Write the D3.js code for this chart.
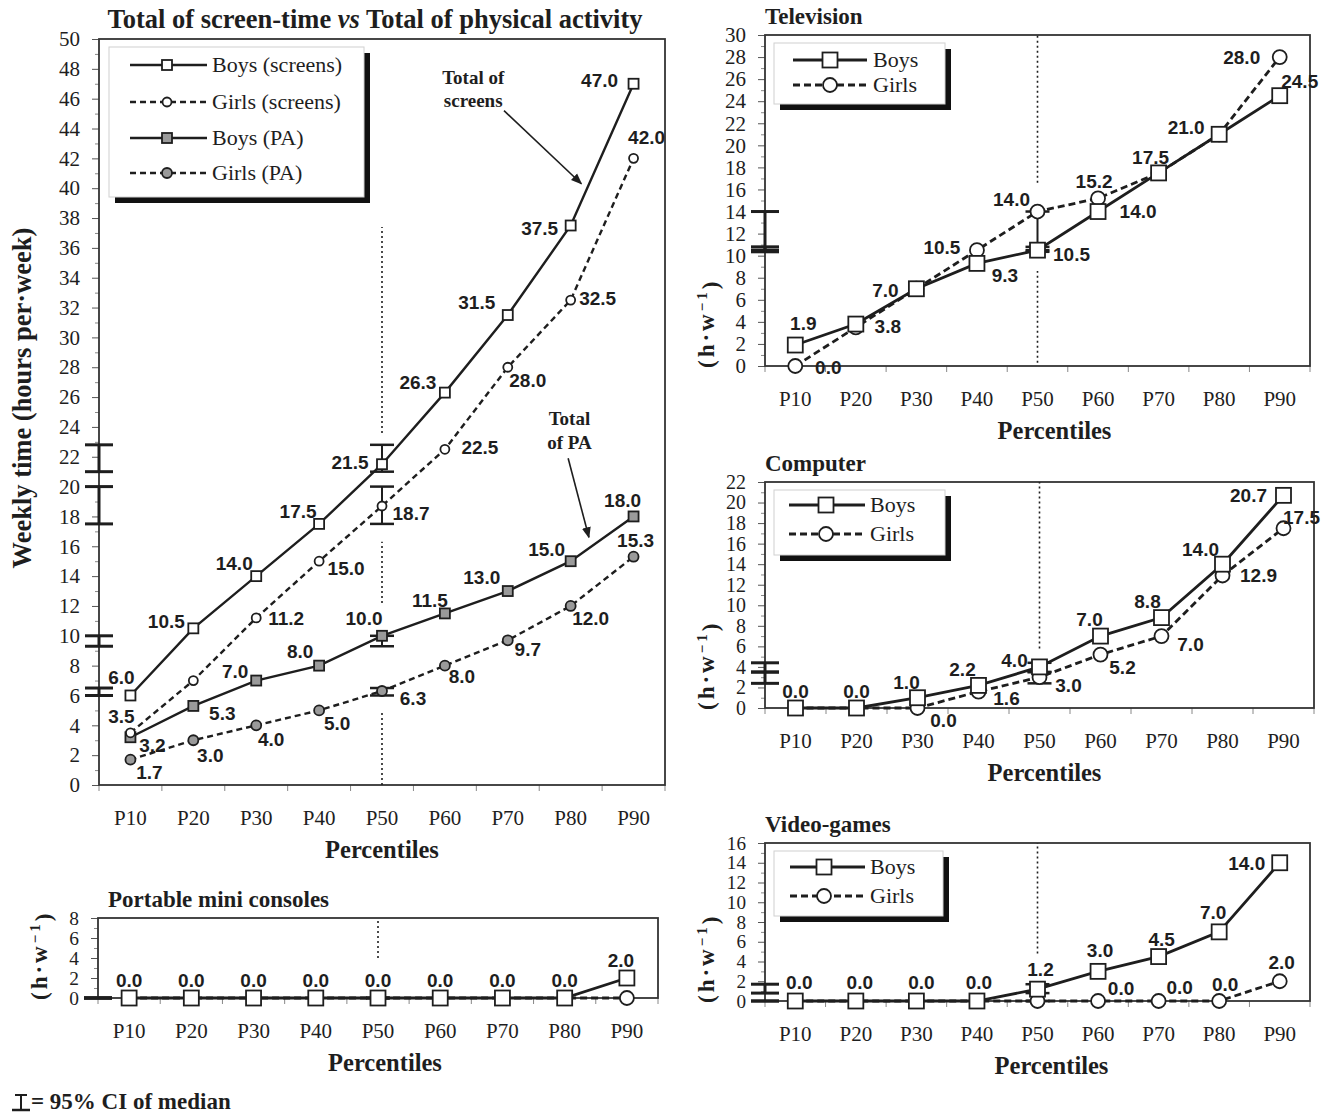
<!DOCTYPE html>
<html>
<head>
<meta charset="utf-8">
<script src="https://cdn.jsdelivr.net/npm/d3@7"></script>
<style>
body{margin:0;background:#fff}
svg{display:block}
text{fill:#1e1e1e}
.serif{font-family:"Liberation Serif","Times New Roman",serif}
.num{font-family:"Liberation Sans",Arial,sans-serif;font-weight:bold;font-size:19px}
</style>
</head>
<body>
<svg id="fig" width="1336" height="1113"></svg>
<script>
var cats = ['P10','P20','P30','P40','P50','P60','P70','P80','P90'];

// Total of screen-time vs total of physical activity (hours per week)
var boysScreens  = [6.0, 10.5, 14.0, 17.5, 21.5, 26.3, 31.5, 37.5, 47.0];
var girlsScreens = [3.5, 7.0, 11.2, 15.0, 18.7, 22.5, 28.0, 32.5, 42.0];
var boysPA       = [3.2, 5.3, 7.0, 8.0, 10.0, 11.5, 13.0, 15.0, 18.0];
var girlsPA      = [1.7, 3.0, 4.0, 5.0, 6.3, 8.0, 9.7, 12.0, 15.3];

var tvBoys    = [1.9, 3.8, 7.0, 9.3, 10.5, 14.0, 17.5, 21.0, 24.5];
var tvGirls   = [0.0, 3.5, 7.0, 10.5, 14.0, 15.2, 17.5, 21.0, 28.0];
var compBoys  = [0.0, 0.0, 1.0, 2.2, 4.0, 7.0, 8.8, 14.0, 20.7];
var compGirls = [0.0, 0.0, 0.0, 1.6, 3.0, 5.2, 7.0, 12.9, 17.5];
var vgBoys    = [0.0, 0.0, 0.0, 0.0, 1.2, 3.0, 4.5, 7.0, 14.0];
var vgGirls   = [0.0, 0.0, 0.0, 0.0, 0.0, 0.0, 0.0, 0.0, 2.0];
var pmcBoys   = [0.0, 0.0, 0.0, 0.0, 0.0, 0.0, 0.0, 0.0, 2.0];
var pmcGirls  = [0.0, 0.0, 0.0, 0.0, 0.0, 0.0, 0.0, 0.0, 0.0];

// 95% CI of the median [low, high], same order as the series
var ciMain = [[21.0, 22.8], [17.5, 20.0], [9.3, 10.0], [6.0, 6.5]];
var ciTV   = [[10.35, 10.8], [10.5, 14.0]];
var ciComp = [[3.5, 4.4], [2.4, 3.5]];
var ciVG   = [[0.8, 1.7], [0.0, 0.0]];
var ciPMC  = [[0.0, 0.0], [0.0, 0.0]];

// visible pieces of the dotted P50 line (value ranges)
var p50Main = [[0, 4.9], [12.2, 16.3], [23.6, 37.4]];
var p50TV   = [[0.3, 8.6], [16.6, 30]];
var p50Comp = [[5.8, 22]];
var p50VG   = [[4.8, 16]];
var p50PMC  = [[4, 8]];

// ---- label placement (offsets in px from the point, null = no label) ----
var offBS = [[-9,-18],[-27,-7],[-22,-13],[-21,-13],[-32,-2],[-27,-10],[-31,-13],[-31,3],[-34,-4]];
var offGS = [[-9,-17],null,[30,0],[27,7],[29,7],[35,-2],[20,13],[27,-2],[13,-21]];
var offBP = [[22,8],[29,7],[-21,-9],[-19,-14],[-18,-18],[-15,-13],[-26,-14],[-24,-12],[-11,-16]];
var offGP = [[19,13],[17,15],[15,14],[18,13],[31,7],[17,11],[20,9],[20,12],[2,-17]];
var offTVB = [[8,-22],[32,2],[-31,1],[28,12],[34,4],[40,0],[-8,-16],[-33,-7],[20,-15]];
var offTVG = [[33,1],null,null,[-35,-3],[-26,-12],[-4,-17],null,null,[-38,0]];
var offCB = [[0,-17],[0,-17],[-11,-16],[-16,-16],[-25,-7],[-11,-17],[-14,-16],[-22,-15],[-35,0]];
var offCG = [null,null,[26,12],[28,7],[29,8],[22,13],[29,8],[36,0],[18,-11]];
var offVB = [[4,-19],[4,-19],[5,-19],[2,-19],[3,-20],[2,-21],[3,-17],[-6,-20],[-33,0]];
var offVG = [null,null,null,null,null,[23,-13],[21,-14],[6,-17],[2,-19]];
var offPB = [[0,-18],[0,-18],[0,-18],[0,-18],[0,-18],[0,-18],[0,-18],[0,-18],[-6,-18]];

var svg = d3.select('#fig');
var INK = '#1e1e1e';

var stBS = {dash:null, shape:'sq', fill:'#fff', size:10};
var stGS = {dash:'6,4', shape:'ci', fill:'#fff', size:9};
var stBP = {dash:null, shape:'sq', fill:'#9a9a9a', size:10};
var stGP = {dash:'6,4', shape:'ci', fill:'#9a9a9a', size:10};
var stB  = {dash:null, shape:'sq', fill:'#fff', size:15};
var stG  = {dash:'7,4', shape:'ci', fill:'#fff', size:14};

function marker(g, st, mx, my) {
  if (st.shape === 'sq') {
    g.append('rect').attr('x', mx - st.size/2).attr('y', my - st.size/2)
      .attr('width', st.size).attr('height', st.size)
      .attr('fill', st.fill).attr('stroke', INK).attr('stroke-width', 1.8);
  } else {
    g.append('circle').attr('cx', mx).attr('cy', my).attr('r', st.size/2)
      .attr('fill', st.fill).attr('stroke', INK).attr('stroke-width', 1.8);
  }
}

function drawPanel(p) {
  var g = svg.append('g');
  var x = d3.scaleBand().domain(cats).range([p.x0, p.x1]);
  var y = d3.scaleLinear().domain([0, p.ymax]).range([p.y1, p.y0]);
  var cx = function(i) { return x(cats[i]) + x.bandwidth() / 2; };
  // tick labels are packed tight on the short panels, keep them from touching
  var tickFont = Math.min(21, (y(0) - y(2)) - 0.6);

  // title
  if (p.title) {
    g.append('text').attr('class', 'serif').attr('x', p.tx).attr('y', p.y0 - 11)
      .style('font-size', p.tsize + 'px').style('font-weight', 'bold')
      .text(p.title);
  }

  // y axis, major ticks with labels and minor ticks without
  var ya = g.append('g').attr('transform', 'translate(' + p.x0 + ',0)')
    .call(d3.axisLeft(y).tickValues(d3.range(0, p.ymax + 0.1, 2)).tickSize(7).tickPadding(12));
  ya.select('.domain').remove();
  ya.attr('font-family', '"Liberation Serif","Times New Roman",serif').attr('font-size', tickFont);
  ya.selectAll('line').attr('stroke', '#555');
  ya.selectAll('text').attr('fill', '#333');
  var ym = g.append('g').attr('transform', 'translate(' + p.x0 + ',0)')
    .call(d3.axisLeft(y).tickValues(d3.range(1, p.ymax, 2)).tickSize(4));
  ym.select('.domain').remove();
  ym.selectAll('text').remove();
  ym.selectAll('line').attr('stroke', '#888');

  // x axis labels and boundary ticks
  var xa = g.append('g').attr('transform', 'translate(0,' + p.y1 + ')')
    .call(d3.axisBottom(x).tickSize(0).tickPadding(25));
  xa.select('.domain').remove();
  xa.attr('font-family', '"Liberation Serif","Times New Roman",serif').attr('font-size', 21);
  xa.selectAll('text').attr('fill', '#333');
  g.selectAll(null).data(d3.range(cats.length + 1)).enter().append('line')
    .attr('x1', function(i) { return p.x0 + i * x.step(); })
    .attr('x2', function(i) { return p.x0 + i * x.step(); })
    .attr('y1', p.y1).attr('y2', p.y1 + 6)
    .attr('stroke', '#888').attr('stroke-width', 1);

  g.append('text').attr('class', 'serif')
    .attr('x', (p.x0 + p.x1) / 2 + p.pdx).attr('y', p.y1 + 73)
    .attr('text-anchor', 'middle').style('font-size', '24.5px').style('font-weight', 'bold')
    .text('Percentiles');

  // frame
  g.append('rect').attr('x', p.x0).attr('y', p.y0)
    .attr('width', p.x1 - p.x0).attr('height', p.y1 - p.y0)
    .attr('fill', 'none').attr('stroke', '#333').attr('stroke-width', 1.8);

  // dotted P50 line
  p.p50.forEach(function(s) {
    g.append('line').attr('x1', cx(4)).attr('x2', cx(4))
      .attr('y1', y(s[0])).attr('y2', y(s[1]))
      .attr('stroke', INK).attr('stroke-width', 1.6).attr('stroke-dasharray', '2,3');
  });

  // CI of the median drawn on the y axis
  p.ci.forEach(function(c) {
    g.append('line').attr('x1', p.x0).attr('x2', p.x0).attr('y1', y(c[0])).attr('y2', y(c[1]))
      .attr('stroke', INK).attr('stroke-width', 3);
    c.forEach(function(v) {
      g.append('line').attr('x1', p.x0 - 14).attr('x2', p.x0 + 14).attr('y1', y(v)).attr('y2', y(v))
        .attr('stroke', INK).attr('stroke-width', 3);
    });
  });

  // lines
  var line = d3.line().x(function(d, i) { return cx(i); }).y(function(d) { return y(d); });
  p.series.slice().reverse().forEach(function(s) {
    g.append('path').datum(s.values).attr('d', line).attr('fill', 'none')
      .attr('stroke', INK).attr('stroke-width', p.lw)
      .attr('stroke-dasharray', s.st.dash);
  });

  // CI at the P50 point
  p.ci.forEach(function(c) {
    g.append('line').attr('x1', cx(4)).attr('x2', cx(4)).attr('y1', y(c[0])).attr('y2', y(c[1]))
      .attr('stroke', INK).attr('stroke-width', 2);
    c.forEach(function(v) {
      g.append('line').attr('x1', cx(4) - 12).attr('x2', cx(4) + 12).attr('y1', y(v)).attr('y2', y(v))
        .attr('stroke', INK).attr('stroke-width', 2.5);
    });
  });

  // markers
  p.series.slice().reverse().forEach(function(s) {
    s.values.forEach(function(v, i) { marker(g, s.st, cx(i), y(v)); });
  });

  // value labels
  p.series.forEach(function(s) {
    s.values.forEach(function(v, i) {
      var o = s.off[i];
      if (!o) return;
      g.append('text').attr('class', 'num')
        .attr('x', cx(i) + o[0]).attr('y', y(v) + o[1]).attr('dy', '0.36em')
        .attr('text-anchor', 'middle').text(v.toFixed(1));
    });
  });

  // legend
  if (p.legend) {
    var L = p.legend, lx = p.x0 + L.dx, ly = p.y0 + 8;
    g.append('rect').attr('x', lx + 6).attr('y', ly + 6).attr('width', L.w).attr('height', L.h).attr('fill', '#111');
    g.append('rect').attr('x', lx).attr('y', ly).attr('width', L.w).attr('height', L.h)
      .attr('fill', '#fff').attr('stroke', '#d0d0d0').attr('stroke-width', 1);
    L.items.forEach(function(it, k) {
      var s = p.series[k], ey = ly + it;
      g.append('line').attr('x1', lx + L.a).attr('x2', lx + L.b).attr('y1', ey).attr('y2', ey)
        .attr('stroke', INK).attr('stroke-width', p.lw).attr('stroke-dasharray', s.st.dash);
      marker(g, s.st, lx + L.m, ey);
      g.append('text').attr('class', 'serif').attr('x', lx + L.t).attr('y', ey).attr('dy', '0.33em')
        .style('font-size', '22px').text(s.name);
    });
  }

  // y label
  if (p.ylab === 'hw') {
    var t = g.append('text').attr('class', 'serif')
      .attr('transform', 'translate(' + (p.x0 - 59) + ',' + (p.y1 + 2) + ') rotate(-90)')
      .attr('dy', '0.35em').style('font-size', '23px').style('font-weight', 'bold')
      .style('letter-spacing', '3px');
    t.append('tspan').text('(h\u00b7w');
    t.append('tspan').attr('dy', '-0.45em').style('font-size', '15px').text('\u22121');
    t.append('tspan').attr('dy', '0.45em').text(')');
  } else if (p.ylab) {
    g.append('text').attr('class', 'serif')
      .attr('transform', 'translate(22,' + ((p.y0 + p.y1) / 2 - 14) + ') rotate(-90)')
      .attr('text-anchor', 'middle').attr('dy', '0.35em')
      .style('font-size', '26.5px').style('font-weight', 'bold').text(p.ylab);
  }

  return {g: g, x: x, y: y, cx: cx};
}

// ---- main panel ----
var main = drawPanel({
  x0: 99, x1: 665, y0: 39, y1: 785, ymax: 50, lw: 2.4, pdx: 0,
  ylab: 'Weekly time (hours per\u00b7week)',
  series: [
    {name: 'Boys (screens)', values: boysScreens, st: stBS, off: offBS},
    {name: 'Girls (screens)', values: girlsScreens, st: stGS, off: offGS},
    {name: 'Boys (PA)', values: boysPA, st: stBP, off: offBP},
    {name: 'Girls (PA)', values: girlsPA, st: stGP, off: offGP}
  ],
  ci: ciMain, p50: p50Main,
  legend: {dx: 10, w: 255, h: 150, items: [18, 55, 91, 126], a: 21, b: 98, m: 58, t: 103}
});

var mt = main.g.append('text').attr('class', 'serif').attr('x', 375).attr('y', 28)
  .attr('text-anchor', 'middle').style('font-size', '26.5px').style('font-weight', 'bold');
mt.append('tspan').text('Total of screen-time ');
mt.append('tspan').style('font-style', 'italic').text('vs');
mt.append('tspan').text(' Total of physical activity');

// annotations (category index, value)
var defs = svg.append('defs');
defs.append('marker').attr('id', 'ah').attr('viewBox', '0 0 10 10').attr('refX', 9).attr('refY', 5)
  .attr('markerWidth', 7).attr('markerHeight', 7).attr('orient', 'auto')
  .append('path').attr('d', 'M0,1 L10,5 L0,9 z').attr('fill', INK);

var annots = [
  {lines: ['Total of', 'screens'], at: [5.45, 47.0], gap: 1.55, from: [5.94, 45.2], to: [7.17, 40.3]},
  {lines: ['Total', 'of PA'], at: [6.98, 24.1], gap: 1.6, from: [6.96, 21.9], to: [7.29, 16.6]}
];
var ax = function(i) { return main.cx(0) + i * main.x.step(); };
annots.forEach(function(a) {
  a.lines.forEach(function(l, k) {
    main.g.append('text').attr('class', 'serif').attr('x', ax(a.at[0])).attr('y', main.y(a.at[1] - k * a.gap))
      .attr('text-anchor', 'middle').style('font-size', '19px').style('font-weight', 'bold').text(l);
  });
  main.g.append('line').attr('x1', ax(a.from[0])).attr('y1', main.y(a.from[1]))
    .attr('x2', ax(a.to[0])).attr('y2', main.y(a.to[1]))
    .attr('stroke', INK).attr('stroke-width', 1.6).attr('marker-end', 'url(#ah)');
});

// ---- small panels ----
drawPanel({
  x0: 765, x1: 1310, y0: 35, y1: 366, ymax: 30, lw: 2.8, pdx: 17,
  title: 'Television', tx: 765, tsize: 23, ylab: 'hw',
  series: [
    {name: 'Boys', values: tvBoys, st: stB, off: offTVB},
    {name: 'Girls', values: tvGirls, st: stG, off: offTVG}
  ],
  ci: ciTV, p50: p50TV,
  legend: {dx: 9, w: 171, h: 61, items: [17, 42], a: 19, b: 93, m: 56, t: 99}
});

drawPanel({
  x0: 765, x1: 1314, y0: 482, y1: 708, ymax: 22, lw: 2.8, pdx: 5,
  title: 'Computer', tx: 765, tsize: 23, ylab: 'hw',
  series: [
    {name: 'Boys', values: compBoys, st: stB, off: offCB},
    {name: 'Girls', values: compGirls, st: stG, off: offCG}
  ],
  ci: ciComp, p50: p50Comp,
  legend: {dx: 9, w: 171, h: 65, items: [15, 44], a: 15, b: 91, m: 52, t: 96}
});

drawPanel({
  x0: 765, x1: 1310, y0: 843, y1: 1001, ymax: 16, lw: 2.8, pdx: 14,
  title: 'Video-games', tx: 765, tsize: 23, ylab: 'hw',
  series: [
    {name: 'Boys', values: vgBoys, st: stB, off: offVB},
    {name: 'Girls', values: vgGirls, st: stG, off: offVG}
  ],
  ci: ciVG, p50: p50VG,
  legend: {dx: 9, w: 169, h: 65, items: [16, 45], a: 16, b: 91, m: 50, t: 96}
});

drawPanel({
  x0: 98, x1: 658, y0: 918, y1: 998, ymax: 8, lw: 2.8, pdx: 7,
  title: 'Portable mini consoles', tx: 108, tsize: 23, ylab: 'hw',
  series: [
    {name: 'Boys', values: pmcBoys, st: stB, off: offPB},
    {name: 'Girls', values: pmcGirls, st: stG, off: [null,null,null,null,null,null,null,null,null]}
  ],
  ci: ciPMC, p50: p50PMC
});

// footnote: CI symbol
var fn = svg.append('g');
fn.append('line').attr('x1', 15).attr('x2', 27).attr('y1', 1095).attr('y2', 1095).attr('stroke', INK).attr('stroke-width', 2);
fn.append('line').attr('x1', 21).attr('x2', 21).attr('y1', 1095).attr('y2', 1110).attr('stroke', INK).attr('stroke-width', 2);
fn.append('line').attr('x1', 12).attr('x2', 30).attr('y1', 1110).attr('y2', 1110).attr('stroke', INK).attr('stroke-width', 2.5);
fn.append('text').attr('class', 'serif').attr('x', 31).attr('y', 1109)
  .style('font-size', '23px').style('font-weight', 'bold').text('= 95% CI of median');
</script>
</body>
</html>
